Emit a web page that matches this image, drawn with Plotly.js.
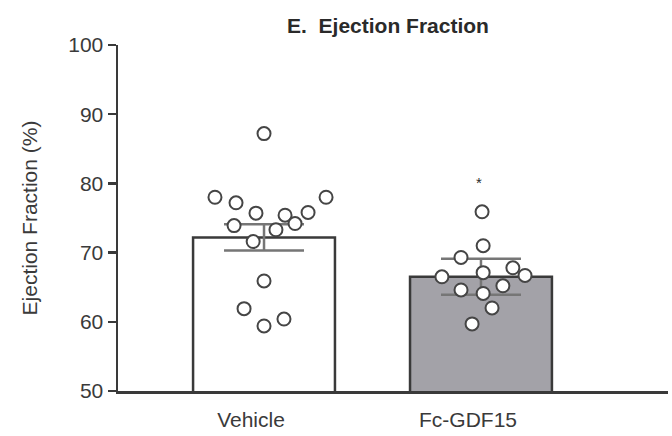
<!DOCTYPE html>
<html>
<head>
<meta charset="utf-8">
<script src="https://cdn.plot.ly/plotly-3.0.1.min.js"></script>
<style>
  html, body { margin: 0; padding: 0; background: #fff; }
  #chart { width: 672px; height: 436px; }
</style>
</head>
<body>
<div id="chart"></div>
<script>
// Groups shown on the x axis
const groups = ['Vehicle', 'Fc-GDF15'];

// Group means and SEM (%)
const meanEF = [72.2, 66.5];
const semEF = [1.9, 2.6];

// Individual animals, ejection fraction (%)
const vehicleEF = [87.2, 78.0, 77.2, 75.7, 75.4, 75.8, 78.0, 73.9, 74.2, 73.3, 71.6, 65.9, 61.9, 59.4, 60.4];
const gdf15EF = [75.9, 71.0, 69.3, 67.1, 67.8, 66.7, 66.5, 64.6, 64.1, 65.2, 62.0, 59.7];

// Horizontal scatter of the dots within each group (category units)
const vehicleJitter = [0, -0.226, -0.129, -0.037, 0.097, 0.203, 0.286, -0.138, 0.143, 0.055, -0.05, 0, -0.092, 0, 0.092];
const gdf15Jitter = [0.005, 0.01, -0.092, 0.01, 0.147, 0.203, -0.18, -0.092, 0.01, 0.101, 0.051, -0.041];

// Significance mark above Fc-GDF15
const sigLabel = '*';
const sigY = 80.1;

const FONT = 'Liberation Sans, Arial, sans-serif';
const groupIdx = groups.map((_, i) => i);

const bars = {
  type: 'bar',
  x: groupIdx,
  y: meanEF,
  width: 0.654,
  base: 0,
  marker: {
    color: ['#ffffff', '#a3a2a8'],
    line: { color: '#3a3a3a', width: 2.5 }
  },
  error_y: {
    type: 'data',
    array: semEF,
    visible: true,
    color: '#767676',
    thickness: 2.5,
    width: 40
  },
  hoverinfo: 'skip'
};

function dots(values, jitter, g) {
  return {
    type: 'scatter',
    mode: 'markers',
    x: values.map((_, i) => g + jitter[i]),
    y: values,
    marker: {
      size: 13,
      color: '#ffffff',
      line: { color: '#454545', width: 2 }
    },
    hoverinfo: 'y'
  };
}

const data = [
  bars,
  dots(vehicleEF, vehicleJitter, 0),
  dots(gdf15EF, gdf15Jitter, 1)
];

const layout = {
  width: 672,
  height: 436,
  margin: { l: 118, r: 4, t: 45, b: 45 },
  paper_bgcolor: '#ffffff',
  plot_bgcolor: '#ffffff',
  showlegend: false,
  font: { family: FONT, color: '#3a3a3a', size: 21 },
  title: {
    text: 'E.\u00a0 Ejection Fraction',
    font: { family: FONT, size: 21, color: '#2a2a2a', weight: 'bold' },
    xref: 'container',
    yref: 'container',
    x: 388 / 672,
    xanchor: 'center',
    y: 1 - 26 / 436,
    yanchor: 'middle'
  },
  xaxis: {
    range: [-0.673, 1.862],
    tickmode: 'array',
    tickvals: groupIdx,
    ticktext: groups,
    ticks: '',
    ticklabelshift: -13,
    ticklabelstandoff: 8,
    showline: true,
    linecolor: '#3a3a3a',
    linewidth: 2.5,
    showgrid: false,
    zeroline: false,
    tickfont: { family: FONT, size: 21, color: '#3a3a3a' },
    fixedrange: true
  },
  yaxis: {
    range: [50, 100],
    tickmode: 'array',
    tickvals: [50, 60, 70, 80, 90, 100],
    ticks: 'outside',
    ticklen: 8,
    tickwidth: 2.5,
    tickcolor: '#3a3a3a',
    showline: true,
    linecolor: '#3a3a3a',
    linewidth: 2.5,
    showgrid: false,
    zeroline: false,
    tickfont: { family: FONT, size: 21, color: '#3a3a3a' },
    title: {
      text: 'Ejection Fraction (%)',
      font: { family: FONT, size: 21, color: '#3a3a3a' },
      standoff: 25
    },
    fixedrange: true
  },
  annotations: [{
    x: 1,
    y: sigY,
    xref: 'x',
    yref: 'y',
    text: sigLabel,
    showarrow: false,
    xshift: -2,
    font: { family: FONT, size: 15, color: '#2a2a2a' }
  }]
};

Plotly.newPlot('chart', data, layout, { displayModeBar: false, staticPlot: true });
</script>
</body>
</html>
